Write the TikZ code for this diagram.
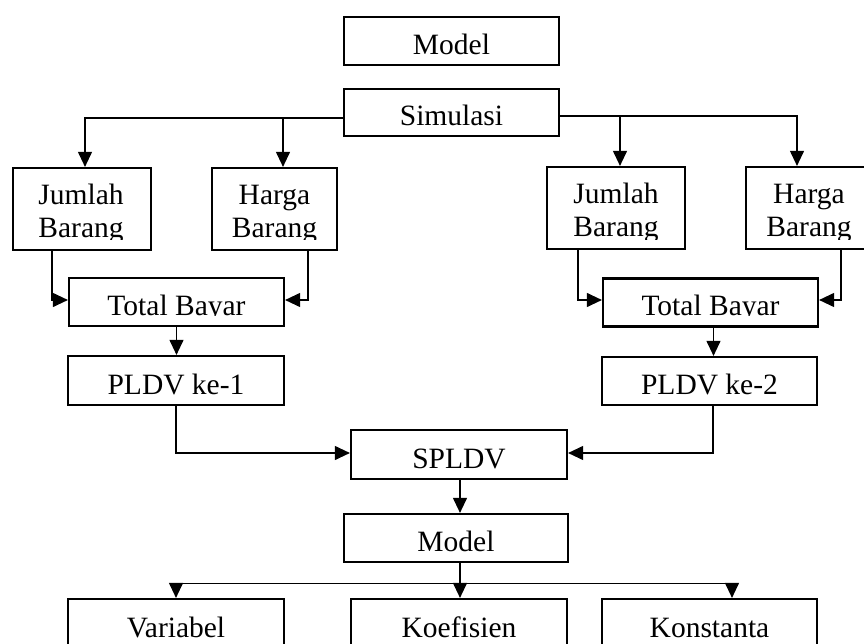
\documentclass[tikz,border=0pt]{standalone}
\usepackage{fontspec}
\setmainfont{Liberation Serif}
\usetikzlibrary{arrows.meta,calc}
\tikzset{
  lbl/.style={font=\fontsize{29.5bp}{35bp}\selectfont},
  box/.style={draw, line width=2.2bp, inner sep=0pt, text height=27bp, text depth=0bp, lbl},
  txt/.style={anchor=base, inner sep=0pt, lbl},
  conn/.style={line width=1.1bp},
  arr/.style={conn, -{Triangle[length=15bp,width=14bp]}}
}
\begin{document}
\begin{tikzpicture}[x=1bp,y=-1bp]
\useasboundingbox (0,0) rectangle (864,644);
\clip (0,0) rectangle (864,644);
% boxes
\node[box, minimum width=215bp, minimum height=48bp] (model1) at (451.5,41) {Model};
\node[box, minimum width=215bp, minimum height=47bp] (sim) at (451.5,112.5) {Simulasi};
\node[box, minimum width=138bp, minimum height=82bp] (jl1) at (82,209) {};
\node[box, minimum width=125bp, minimum height=82bp] (hb1) at (274.5,209) {};
\node[box, minimum width=138bp, minimum height=82bp] (jl2) at (616,208) {};
\node[box, minimum width=126bp, minimum height=82bp] (hb2) at (809,208) {};
\node[box, minimum width=215bp, minimum height=48bp] (tb1) at (176.5,302) {};
\node[box, minimum width=215bp, minimum height=48bp] (tb2) at (710.5,302.5) {};
\node[box, minimum width=216bp, minimum height=49bp] (pl1) at (176,380.5) {PLDV ke-1};
\node[box, minimum width=215bp, minimum height=48bp] (pl2) at (709.5,381) {PLDV ke-2};
\node[box, minimum width=216bp, minimum height=49bp] (spl) at (459,454.5) {SPLDV};
\node[box, minimum width=224bp, minimum height=48bp] (mod2) at (456,538) {Model};
\node[box, minimum width=216bp, minimum height=50bp] (var) at (176,624) {Variabel};
\node[box, minimum width=216bp, minimum height=50bp] (koe) at (459,624) {Koefisien};
\node[box, minimum width=215bp, minimum height=50bp] (kon) at (709.5,624) {Konstanta};
% clipped texts
\begin{scope}
  \clip (0,0) rectangle (864,239);
  \node[txt] (jl1a) at (81,205) {Jumlah};
  \node[txt] (jl1b) at (81,238) {Barang};
  \node[txt] (hb1a) at (274.5,205) {Harga};
  \node[txt] (hb1b) at (274.5,238) {Barang};
  \node[txt] (jl2a) at (616,204) {Jumlah};
  \node[txt] (jl2b) at (616,237) {Barang};
  \node[txt] (hb2a) at (809,204) {Harga};
  \node[txt] (hb2b) at (809,237) {Barang};
\end{scope}
\begin{scope}
  \clip (0,250) rectangle (864,315.5);
  \node[txt] (tb1t) at (176.5,315) {Total Bayar};
  \node[txt] (tb2t) at (710.5,315) {Total Bayar};
\end{scope}
% connectors from Simulasi
\coordinate (sL) at ($(sim.west)+(0,5.5)$);
\coordinate (sR) at ($(sim.east)+(0,3.5)$);
\coordinate (aJ1) at ($(jl1.north)+(3,0)$);
\coordinate (aH1) at ($(hb1.north)+(8.5,0)$);
\coordinate (aJ2) at ($(jl2.north)+(4,0)$);
\coordinate (aH2) at ($(hb2.north)+(-12,0)$);
\draw[arr] (sL) -| (aJ1);
\draw[arr] (aH1 |- sL) -- (aH1);
\draw[arr] (sR) -| (aH2);
\draw[arr] (aJ2 |- sR) -- (aJ2);
% into Total Bayar
\coordinate (j1s) at ($(jl1.south)+(-30,0)$);
\coordinate (h1s) at ($(hb1.south)+(33.5,0)$);
\coordinate (j2s) at ($(jl2.south)+(-38,0)$);
\coordinate (h2s) at ($(hb2.south)+(32,0)$);
\draw[arr] (j1s) |- ($(tb1.west)+(0,-2)$);
\draw[arr] (h1s) |- ($(tb1.east)+(0,-2)$);
\draw[arr] (j2s) |- ($(tb2.west)+(0,-2.5)$);
\draw[arr] (h2s) |- ($(tb2.east)+(0,-2.5)$);
% Total Bayar -> PLDV
\draw[arr] (tb1.south) -- (tb1.south |- pl1.north);
\coordinate (t2s) at ($(tb2.south)+(3,0)$);
\draw[arr] (t2s) -- (t2s |- pl2.north);
% PLDV -> SPLDV
\coordinate (p2s) at ($(pl2.south)+(3.5,0)$);
\draw[arr] (pl1.south) |- ($(spl.west)+(0,-1.5)$);
\draw[arr] (p2s) |- ($(spl.east)+(0,-1.5)$);
% SPLDV -> Model
\coordinate (ss) at ($(spl.south)+(1,0)$);
\draw[arr] (ss) -- (ss |- mod2.north);
% Model -> bottom
\coordinate (ms) at ($(mod2.south)+(4,0)$);
\coordinate (bj) at ($(ms)+(0,20)$);
\coordinate (aK) at ($(kon.north)+(22.5,0)$);
\draw[conn] (ms) -- (bj);
\draw[arr] (bj) -| (var.north);
\draw[arr] (bj) -| (aK);
\draw[arr] (bj) -- (bj |- koe.north);
\end{tikzpicture}
\end{document}
